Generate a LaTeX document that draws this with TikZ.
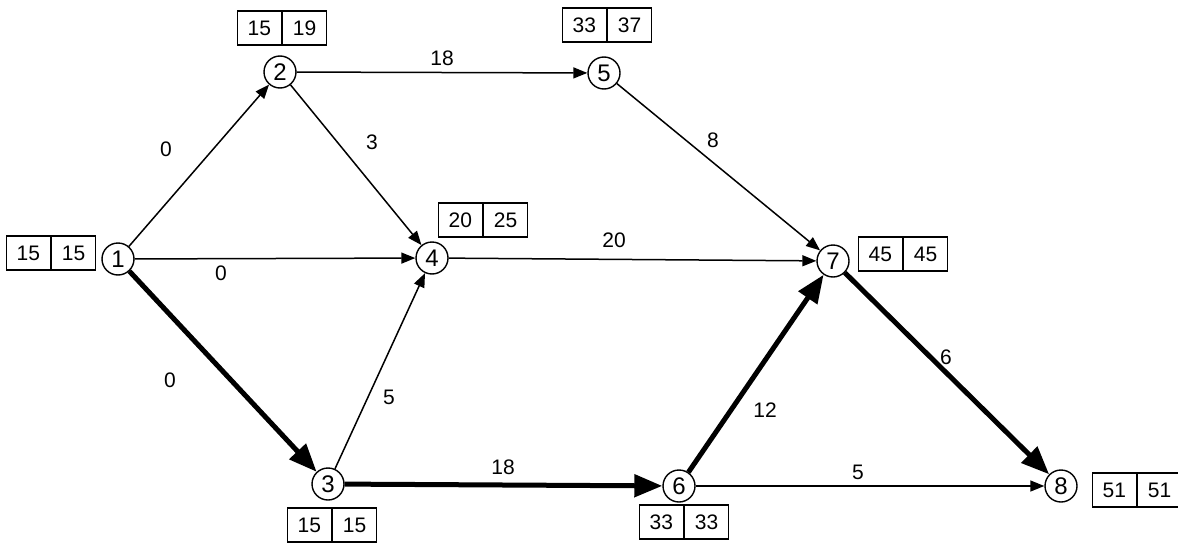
\documentclass[tikz,border=0pt]{standalone}
\usepackage{fontspec}
\setmainfont{Liberation Sans}
\usetikzlibrary{arrows.meta}
\begin{document}
\begin{tikzpicture}[x=1pt,y=-1pt,
  ev/.style={circle,draw,line width=1.4pt,minimum size=32pt,inner sep=0pt,font=\fontsize{24}{24}\selectfont},
  cell/.style={draw,line width=1.2pt,minimum width=44pt,minimum height=34pt,inner sep=0pt,font=\fontsize{21}{21}\selectfont},
  lbl/.style={font=\fontsize{21}{21}\selectfont,inner sep=0pt},
  thin/.style={line width=1.5pt,-{Triangle[length=14pt,width=11pt]}},
  crit/.style={line width=5pt,-{Triangle[length=28pt,width=22pt]}}]
\useasboundingbox (0,0) rectangle (1178,546);
% events
\node[ev] (n1) at (118,259) {1};
\node[ev] (n2) at (280,72) {2};
\node[ev] (n3) at (328,484) {3};
\node[ev] (n4) at (432,258) {4};
\node[ev] (n5) at (604,73) {5};
\node[ev] (n6) at (679,486) {6};
\node[ev] (n7) at (833,261) {7};
\node[ev] (n8) at (1061,486) {8};
% time boxes
\node[cell,anchor=east] (b1a) at (51,253) {15};
\node[cell,anchor=west] (b1b) at (51,253) {15};
\node[cell,anchor=east] (b2a) at (282,28) {15};
\node[cell,anchor=west] (b2b) at (282,28) {19};
\node[cell,anchor=east] (b5a) at (607,25) {33};
\node[cell,anchor=west] (b5b) at (607,25) {37};
\node[cell,anchor=east] (b4a) at (483,220) {20};
\node[cell,anchor=west] (b4b) at (483,220) {25};
\node[cell,anchor=east] (b7a) at (903,254) {45};
\node[cell,anchor=west] (b7b) at (903,254) {45};
\node[cell,anchor=east] (b3a) at (332,525) {15};
\node[cell,anchor=west] (b3b) at (332,525) {15};
\node[cell,anchor=east] (b6a) at (684,522) {33};
\node[cell,anchor=west] (b6b) at (684,522) {33};
\node[cell,anchor=east] (b8a) at (1137,490) {51};
\node[cell,anchor=west] (b8b) at (1137,490) {51};
% activities
\draw[thin] (n1) -- (n2);
\draw[thin] (n1) -- (n4);
\draw[crit] (n1) -- (n3);
\draw[thin] (n2) -- (n5);
\draw[thin] (n2) -- (n4);
\draw[thin] (n5) -- (n7);
\draw[thin] (n4) -- (n7);
\draw[thin] (n3) -- (n4);
\draw[crit] (n3) -- (n6);
\draw[crit] (n6) -- (n7);
\draw[thin] (n6) -- (n8);
\draw[crit] (n7) -- (n8);
% durations
\node[lbl] (l12) at (166,149) {0};
\node[lbl] (l14) at (221,273) {0};
\node[lbl] (l13) at (170,380) {0};
\node[lbl] (l25) at (442,58) {18};
\node[lbl] (l24) at (372,142) {3};
\node[lbl] (l57) at (713,140) {8};
\node[lbl] (l47) at (614,240) {20};
\node[lbl] (l34) at (389,397) {5};
\node[lbl] (l36) at (503,467) {18};
\node[lbl] (l67) at (765,410) {12};
\node[lbl] (l78) at (946,357) {6};
\node[lbl] (l68) at (858,472) {5};
\end{tikzpicture}
\end{document}
